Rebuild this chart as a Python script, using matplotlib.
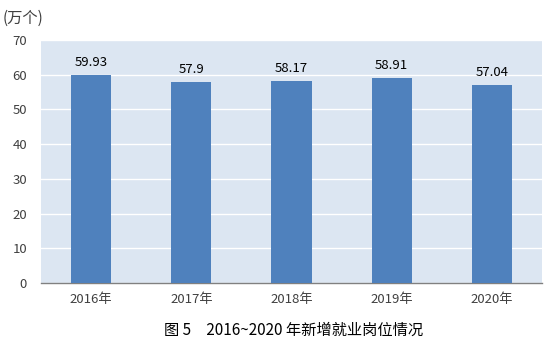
import matplotlib

matplotlib.use("Agg")
import matplotlib.pyplot as plt
import numpy as np

plt.rcParams["font.family"] = ["Noto Sans CJK SC", "DejaVu Sans"]

years = ["2016年", "2017年", "2018年", "2019年", "2020年"]
values = [59.93, 57.9, 58.17, 58.91, 57.04]
value_labels = ["59.93", "57.9", "58.17", "58.91", "57.04"]

BAR = "#4f81bd"
BG = "#dce6f2"

fig = plt.figure(figsize=(5.59, 3.51), dpi=100)
ax = fig.add_axes([41 / 559, 1 - 283 / 351, 501 / 559, 243 / 351])
ax.set_facecolor(BG)

x = np.arange(len(years))
ax.bar(x, values, width=0.4, color=BAR, zorder=3)
for xi, v, lab in zip(x, values, value_labels):
    ax.text(xi, v + 1.8, lab, ha="center", va="bottom", fontsize=9.5,
            color="#000000")

ax.set_xlim(-0.5, len(years) - 0.5)
ax.set_ylim(0, 70)
ax.set_yticks(range(0, 71, 10))
ax.set_xticks(x)
ax.set_xticklabels(years)
ax.grid(axis="y", color="white", lw=1.0, zorder=1)
ax.tick_params(axis="both", length=0, labelsize=9.5, colors="#404040")
ax.tick_params(axis="x", pad=7)
ax.tick_params(axis="y", pad=10)
for s in ["top", "right", "left"]:
    ax.spines[s].set_visible(False)
ax.spines["bottom"].set_color("#808080")
ax.spines["bottom"].set_linewidth(1.0)

fig.text(3 / 559, 1 - 18 / 351, "(万个)", ha="left", va="center",
         fontsize=11, color="#404040")
fig.text(294 / 559, 1 - 330 / 351, "图 5　2016~2020 年新增就业岗位情况",
         ha="center", va="center", fontsize=11, color="#000000")

fig.savefig("out.png", dpi=100)
